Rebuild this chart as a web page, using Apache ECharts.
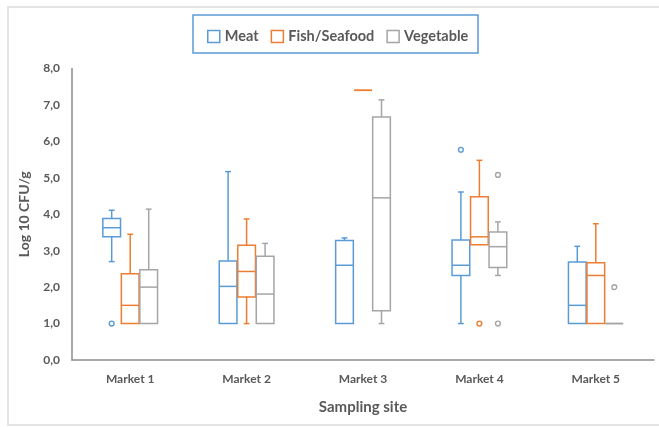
<!DOCTYPE html>
<html>
<head>
<meta charset="utf-8">
<script src="https://cdn.jsdelivr.net/npm/echarts@6/dist/echarts.min.js"></script>
<style>html,body{margin:0;padding:0;background:#fff;}#c{width:659px;height:427px;}</style>
</head>
<body>
<div id="c"></div>
<script>
// Categories
var categories = ['Market 1', 'Market 2', 'Market 3', 'Market 4', 'Market 5'];
// Box stats per market: [min, Q1, median, Q3, max]
var meat = [
  [2.70, 3.38, 3.63, 3.88, 4.11],
  [1.00, 1.00, 2.02, 2.72, 5.17],
  [1.00, 1.00, 2.60, 3.28, 3.35],
  [1.00, 2.32, 2.60, 3.29, 4.61],
  [1.00, 1.00, 1.50, 2.69, 3.12]
];
var fish = [
  [1.00, 1.00, 1.50, 2.37, 3.45],
  [1.00, 1.73, 2.43, 3.15, 3.87],
  [7.40, 7.40, 7.40, 7.40, 7.40],
  [3.16, 3.16, 3.38, 4.48, 5.48],
  [1.00, 1.00, 2.32, 2.67, 3.74]
];
var veg = [
  [1.00, 1.00, 2.00, 2.48, 4.14],
  [1.00, 1.00, 1.81, 2.85, 3.20],
  [1.00, 1.35, 4.45, 6.67, 7.14],
  [2.32, 2.54, 3.11, 3.51, 3.79],
  [1.00, 1.00, 1.00, 1.00, 1.00]
];
// Outliers: [marketIndex, value]
var meatOut = [[0, 1.00], [3, 5.77]];
var fishOut = [[3, 1.00]];
var vegOut = [[3, 5.08], [3, 1.00], [4, 2.00]];
var yTicks = [0, 1, 2, 3, 4, 5, 6, 7, 8];

var seriesNames = ['Meat', 'Fish/Seafood', 'Vegetable'];
var colors = ['#5B9BD5', '#ED7D31', '#A5A5A5'];
var offsets = [-0.159, 0, 0.159];
var txt = '#595959';
var font = 'Lato';

function boxRender(color, offFrac) {
  return function (params, api) {
    var i = api.value(0);
    var lo = api.value(1), q1 = api.value(2), md = api.value(3), q3 = api.value(4), hi = api.value(5);
    var band = api.size([1, 0])[0];
    var cx = api.coord([i, 0])[0] + offFrac * band;
    var w = band * 0.152, cap = band * 0.05;
    function y(v) { return api.coord([i, v])[1]; }
    var st = { stroke: color, lineWidth: 1.5, fill: null };
    var ch = [];
    ch.push({ type: 'rect', shape: { x: cx - w / 2, y: y(q3), width: w, height: y(q1) - y(q3) }, style: st });
    ch.push({ type: 'line', shape: { x1: cx - w / 2, y1: y(md), x2: cx + w / 2, y2: y(md) }, style: st });
    if (hi > q3) {
      ch.push({ type: 'line', shape: { x1: cx, y1: y(q3), x2: cx, y2: y(hi) }, style: st });
      ch.push({ type: 'line', shape: { x1: cx - cap / 2, y1: y(hi), x2: cx + cap / 2, y2: y(hi) }, style: st });
    }
    if (lo < q1) {
      ch.push({ type: 'line', shape: { x1: cx, y1: y(q1), x2: cx, y2: y(lo) }, style: st });
      ch.push({ type: 'line', shape: { x1: cx - cap / 2, y1: y(lo), x2: cx + cap / 2, y2: y(lo) }, style: st });
    }
    return { type: 'group', children: ch };
  };
}
function outRender(color, offFrac) {
  return function (params, api) {
    var i = api.value(0);
    var band = api.size([1, 0])[0];
    var p = api.coord([i, api.value(1)]);
    return { type: 'circle', shape: { cx: p[0] + offFrac * band, cy: p[1], r: 2.4 },
      style: { stroke: color, lineWidth: 1.4, fill: '#fff' } };
  };
}

var boxData = [meat, fish, veg];
var outData = [meatOut, fishOut, vegOut];
var series = [];
for (var s = 0; s < 3; s++) {
  series.push({
    name: seriesNames[s], type: 'custom',
    itemStyle: { color: colors[s] },
    renderItem: boxRender(colors[s], offsets[s]),
    encode: { x: 0, y: [1, 2, 3, 4, 5] },
    data: boxData[s].map(function (d, i) { return [i].concat(d); })
  });
  series.push({
    name: seriesNames[s], type: 'custom',
    itemStyle: { color: colors[s] },
    renderItem: outRender(colors[s], offsets[s]),
    encode: { x: 0, y: 1 },
    data: outData[s]
  });
}

var chart = echarts.init(document.getElementById('c'));
chart.setOption({
  animation: false,
  backgroundColor: '#fff',
  graphic: [
    { type: 'rect', shape: { x: 8, y: 7, width: 700, height: 418 }, style: { fill: null, stroke: '#dcdcdc', lineWidth: 1.5 }, z: -1 },
    { type: 'rect', shape: { x: 193, y: 15, width: 285, height: 38 }, style: { fill: null, stroke: '#5B9BD5', lineWidth: 1.5 } }
  ],
  legend: {
    left: 202, top: 24,
    itemWidth: 12, itemHeight: 12, itemGap: 12,
    textStyle: { color: txt, fontFamily: font, fontWeight: 'bold', fontSize: 14.5 },
    data: seriesNames.map(function (n, k) {
      return { name: n, icon: 'rect', itemStyle: { color: '#fff', borderColor: colors[k], borderWidth: 1.5 } };
    })
  },
  grid: { left: 72, right: 5, top: 68.5, bottom: 67 },
  xAxis: {
    type: 'category', data: categories,
    name: 'Sampling site', nameLocation: 'middle', nameGap: 40,
    nameTextStyle: { color: txt, fontFamily: font, fontWeight: 'bold', fontSize: 15 },
    axisLine: { lineStyle: { color: '#8c8c8c', width: 1.5 } },
    axisTick: { show: false },
    axisLabel: { color: txt, fontFamily: font, fontWeight: 'bold', fontSize: 12, margin: 13 },
    splitLine: { show: false }
  },
  yAxis: {
    type: 'value', min: yTicks[0], max: yTicks[yTicks.length - 1], interval: 1,
    name: 'Log 10 CFU/g', nameLocation: 'middle', nameGap: 41,
    nameTextStyle: { color: txt, fontFamily: font, fontWeight: 'bold', fontSize: 14 },
    axisLine: { show: true, lineStyle: { color: '#8c8c8c', width: 1.5 } },
    axisTick: { show: false },
    splitLine: { show: false },
    axisLabel: { color: txt, fontFamily: font, fontWeight: 'bold', fontSize: 12, margin: 12,
      formatter: function (v) { return v.toFixed(1).replace('.', ','); } }
  },
  series: series
});
</script>
</body>
</html>
